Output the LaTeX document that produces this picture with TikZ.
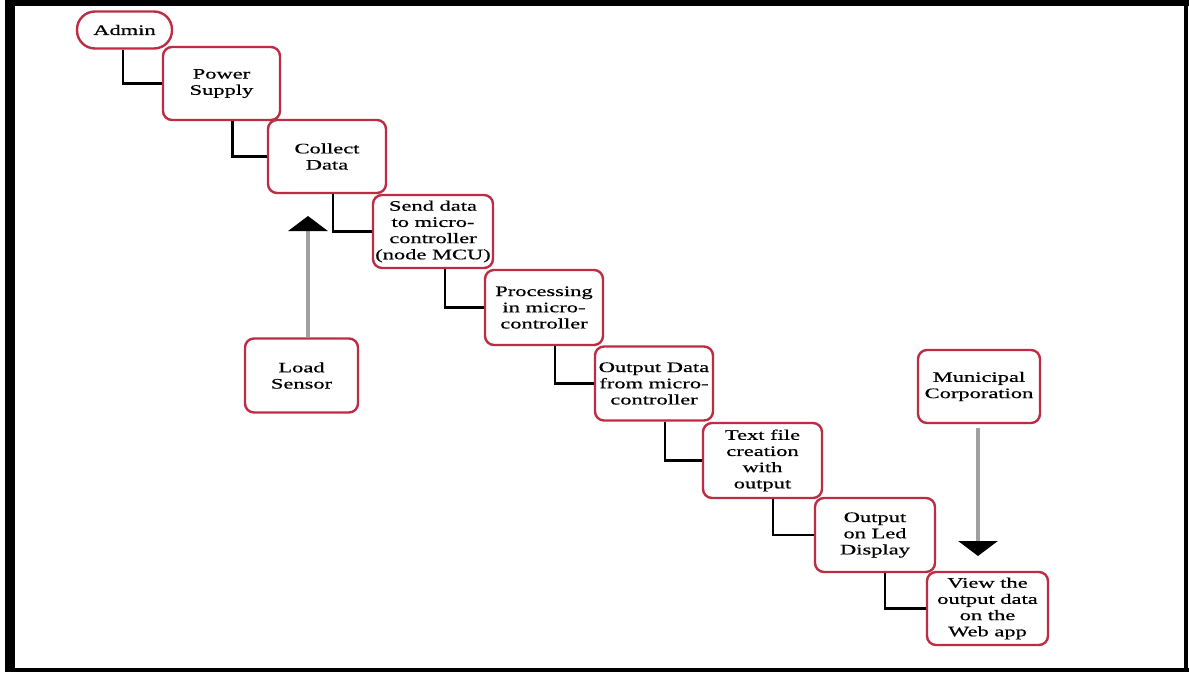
\documentclass[tikz,border=0pt]{standalone}
\usepackage{fontspec}
\setmainfont{Liberation Serif}[FakeStretch=1.55,FakeBold=0.6]
\usetikzlibrary{arrows.meta,calc}
\definecolor{boxred}{RGB}{190,44,68}
\definecolor{arrowgray}{RGB}{160,160,160}
\begin{document}
\begin{tikzpicture}[x=1pt,y=-1pt,
  box/.style={draw=boxred, line width=2.4pt, fill=white, rounded corners=9pt,
    align=center, inner sep=2pt, font=\fontsize{14.5}{16.2}\selectfont},
  link/.style={draw=black, line width=2.8pt},
  feed/.style={draw=arrowgray, line width=3.5pt,
    -{Triangle[width=39pt,length=15pt,color=black]}}]
\useasboundingbox (0,0) rectangle (1189,674);
\fill[white] (0,0) rectangle (1189,674);
% frame
\fill[black] (5,0) rectangle (15,672);
\fill[black] (5,0) rectangle (1189,6);
\fill[black] (1184,0) rectangle (1188,672);
\fill[black] (5,668) rectangle (1189,672);

% nodes
\node[box, minimum width=95pt, minimum height=37pt, rounded corners=18pt] (admin) at (124.5,30) {Admin};
\node[box, minimum width=117pt, minimum height=73pt] (power) at (221.5,83.5) {Power\\Supply};
\node[box, minimum width=118pt, minimum height=73pt] (collect) at (327,156.5) {Collect\\Data};
\node[box, minimum width=120pt, minimum height=73pt] (send) at (433,231.5) {Send data\\to micro-\\controller\\(node MCU)};
\node[box, minimum width=118pt, minimum height=75pt] (proc) at (544,307.5) {Processing\\in micro-\\controller};
\node[box, minimum width=118pt, minimum height=74pt] (outd) at (654,383.5) {Output Data\\from micro-\\controller};
\node[box, minimum width=119pt, minimum height=75pt] (textf) at (762.5,460.5) {Text file\\creation\\with\\output};
\node[box, minimum width=120pt, minimum height=74pt] (led) at (875,535) {Output\\on Led\\Display};
\node[box, minimum width=121pt, minimum height=73pt] (view) at (987.5,608.5) {View the\\output data\\on the\\Web app};
\node[box, minimum width=122pt, minimum height=73pt] (muni) at (979,386.5) {Municipal\\Corporation};
\node[box, minimum width=113pt, minimum height=74pt] (load) at (301.5,375.5) {Load\\Sensor};

% elbow connectors
\draw[link] ($(admin.south)+(-1.5,0)$) |- (power.west);
\draw[link] ($(power.south)+(11,0)$) |- (collect.west);
\draw[link] ($(collect.south)+(6,0)$) |- (send.west);
\draw[link] ($(send.south)+(12,0)$) |- (proc.west);
\draw[link] ($(proc.south)+(11,0)$) |- (outd.west);
\draw[link] ($(outd.south)+(11,0)$) |- (textf.west);
\draw[link] ($(textf.south)+(10.5,0)$) |- (led.west);
\draw[link] ($(led.south)+(10,0)$) |- (view.west);

% input arrows
\coordinate (loadtip) at (308,216);
\coordinate (munitip) at (978,556);
\draw[feed] ($(load.north)+(6.5,0)$) -- (loadtip);
\draw[feed, shorten <=4pt] ($(muni.south)+(-1,0)$) -- (munitip);
\end{tikzpicture}
\end{document}
